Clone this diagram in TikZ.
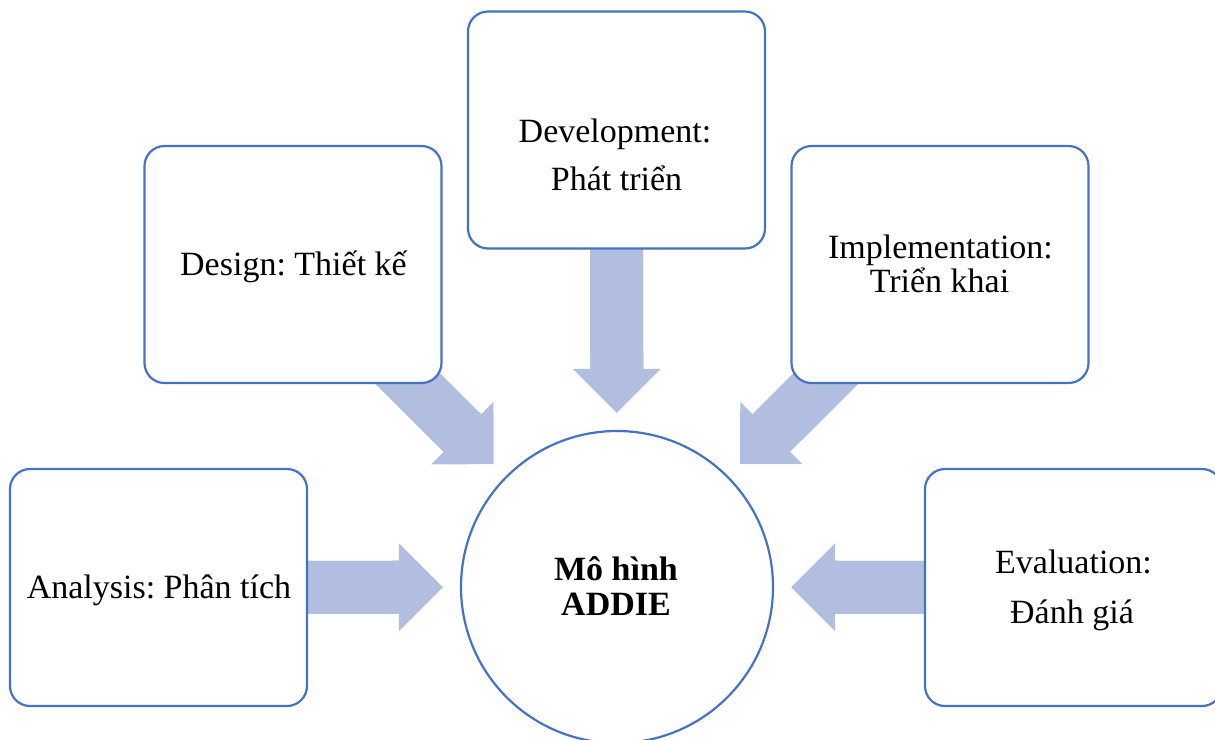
\documentclass[tikz,border=0pt]{standalone}
\usepackage{fontspec}
\setmainfont{Liberation Serif}
\usetikzlibrary{arrows.meta,backgrounds}
\definecolor{boxblue}{RGB}{68,114,196}
\definecolor{flowblue}{RGB}{177,190,224}
\frenchspacing

\begin{document}
\begin{tikzpicture}[x=0.5pt,y=-0.5pt,
    stage/.style={draw=boxblue, line width=1.1pt, fill=white, rounded corners=10pt, minimum width=148.5pt, minimum height=118.5pt, inner sep=0pt},
    core/.style={draw=boxblue, line width=1.1pt, fill=white, circle, minimum size=156pt, inner sep=0pt},
    txt/.style={font=\fontsize{17}{20}\selectfont, anchor=base, inner sep=0pt},
    flow/.style={flowblue, line width=26.5pt, shorten >=8.5pt, -{Triangle[length=22pt, width=44pt, line width=0pt]},
        postaction={draw=flowblue, line width=26.5pt, -, shorten >=27.5pt}}]
    \useasboundingbox (0,0) rectangle (1215,739);

    % Stages
    \node[stage] (ana) at (158.5,587.5) {};
    \node[stage] (des) at (293,264.5) {};
    \node[stage] (dev) at (616.5,130) {};
    \node[stage] (imp) at (940,264.5) {};
    \node[stage] (eva) at (1073.5,587.5) {};

    % Centre
    \node[core] (addie) at (617,587) {};

    % Block arrows
    \begin{scope}[on background layer]
        \draw[flow] (ana.center) -- (addie);
        \draw[flow] (des.center) -- (addie);
        \draw[flow] (dev.center) -- (addie);
        \draw[flow] (imp.center) -- (addie);
        \draw[flow] (eva.center) -- (addie);
    \end{scope}

    % Labels
    \node[txt] (anaA) at (159,598) {Analysis: Phân tích};
    \node[txt] (desA) at (293.5,275) {Design: Thiết kế};
    \node[txt] (devA) at (615,142) {Development:};
    \node[txt] (devB) at (616.5,190) {Phát triển};
    \node[txt] (impA) at (940.5,258) {Implementation:};
    \node[txt] (impB) at (939.5,292) {Triển khai};
    \node[txt] (evaA) at (1073.5,573) {Evaluation:};
    \node[txt] (evaB) at (1072,623) {Đánh giá};
    \node[txt, font=\fontsize{17}{20}\selectfont\bfseries] (addA) at (616,580) {Mô hình};
    \node[txt, font=\fontsize{17}{20}\selectfont\bfseries] (addB) at (616,615) {ADDIE};
\end{tikzpicture}
\end{document}
